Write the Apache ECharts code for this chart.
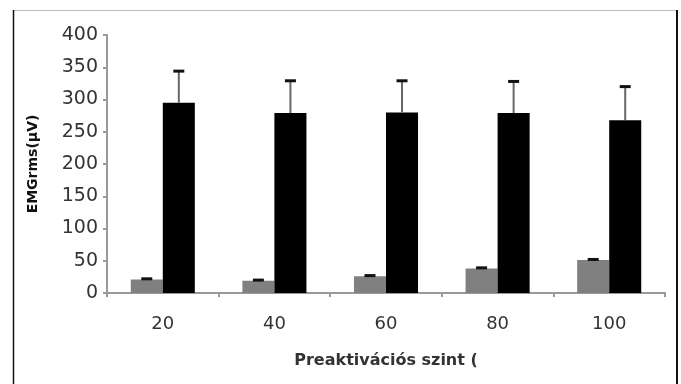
<!DOCTYPE html>
<html>
<head>
<meta charset="utf-8">
<script src="https://cdn.jsdelivr.net/npm/echarts@6/dist/echarts.min.js"></script>
<style>
  html, body { margin: 0; padding: 0; background: #fff; }
  #chart { width: 681px; height: 384px; }
</style>
</head>
<body>
<div id="chart"></div>
<script>
// preaktivációs szintek
var categories = ['20', '40', '60', '80', '100'];
// szürke oszlopok (kisebb érték)
var grayValues = [21, 19, 26, 38, 51];
var grayErr = [1, 1, 1, 1, 1];
// fekete oszlopok
var blackValues = [295, 279, 280, 279, 268];
var blackErr = [49, 50, 49, 49, 52];
var yTicks = [0, 50, 100, 150, 200, 250, 300, 350, 400];

var chart = echarts.init(document.getElementById('chart'));

// hibasáv: csak felfelé, kupakkal
function errorBar(values, errs, seriesIdx, lineColor) {
  var data = values.map(function (v, i) { return [i, v, v + errs[i]]; });
  return {
    type: 'custom',
    z: 10,
    data: data,
    renderItem: function (params, api) {
      var base = api.coord([api.value(0), api.value(1)]);
      var top = api.coord([api.value(0), api.value(2)]);
      var bw = api.size([1, 0])[0] * 0.287;
      var x = base[0] + (seriesIdx === 0 ? -bw / 2 : bw / 2);
      return {
        type: 'group',
        children: [
          { type: 'line', shape: { x1: x, y1: base[1], x2: x, y2: top[1] },
            style: { stroke: lineColor, lineWidth: 2 } },
          { type: 'line', shape: { x1: x - 5.5, y1: top[1], x2: x + 5.5, y2: top[1] },
            style: { stroke: '#111', lineWidth: 3 } }
        ]
      };
    }
  };
}

chart.setOption({
  backgroundColor: '#fff',
  animation: false,
  grid: { left: 107, right: 16, top: 35, bottom: 91 },
  graphic: [
    { type: 'line', shape: { x1: 13, y1: 10.5, x2: 677, y2: 10.5 }, style: { stroke: '#bbb', lineWidth: 1 } },
    { type: 'line', shape: { x1: 13.5, y1: 10, x2: 13.5, y2: 384 }, style: { stroke: '#111', lineWidth: 1.5 } },
    { type: 'line', shape: { x1: 677, y1: 10, x2: 677, y2: 384 }, style: { stroke: '#111', lineWidth: 2 } }
  ],
  xAxis: {
    type: 'category',
    data: categories,
    name: 'Preaktivációs szint (',
    nameLocation: 'middle',
    nameGap: 60,
    nameTextStyle: { fontFamily: 'DejaVu Sans', fontSize: 16, fontWeight: 'bold', color: '#333' },
    axisLine: { lineStyle: { color: '#999', width: 2 } },
    axisTick: { show: true, length: 4, lineStyle: { color: '#999', width: 2 } },
    axisLabel: { fontFamily: 'DejaVu Sans', fontSize: 18, color: '#333', margin: 22 }
  },
  yAxis: {
    type: 'value',
    min: 0,
    max: yTicks[yTicks.length - 1],
    interval: 50,
    name: 'EMGrms(μV)',
    nameLocation: 'middle',
    nameGap: 67,
    nameTextStyle: { fontFamily: 'DejaVu Sans', fontSize: 14, fontWeight: 'bold', color: '#111' },
    axisLine: { show: true, lineStyle: { color: '#999', width: 2 } },
    axisTick: { show: true, length: 4, lineStyle: { color: '#999', width: 2 } },
    axisLabel: { fontFamily: 'DejaVu Sans', fontSize: 19, color: '#333', margin: 9 },
    splitLine: { show: false }
  },
  series: [
    {
      type: 'bar',
      data: grayValues,
      barWidth: '28.7%',
      barGap: '0%',
      itemStyle: { color: '#808080' }
    },
    {
      type: 'bar',
      data: blackValues,
      barWidth: '28.7%',
      barGap: '0%',
      itemStyle: { color: '#000' }
    },
    errorBar(grayValues, grayErr, 0, '#333'),
    errorBar(blackValues, blackErr, 1, '#666')
  ]
});
</script>
</body>
</html>
